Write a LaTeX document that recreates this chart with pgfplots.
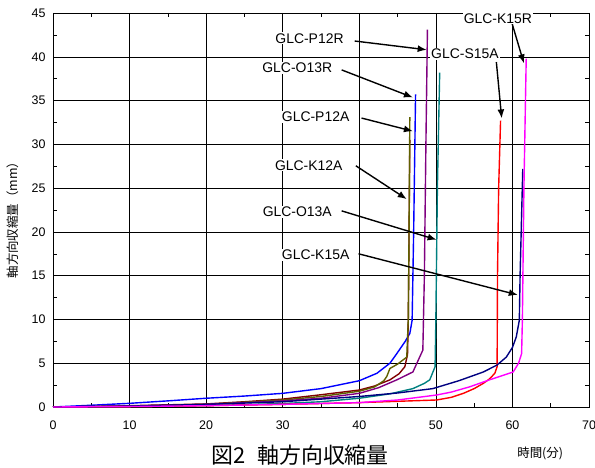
\documentclass[border=0pt]{standalone}
\usepackage{pgfplots}
\pgfplotsset{compat=1.18}
\usetikzlibrary{arrows.meta}
\usepackage{fontspec}
\setmainfont{Liberation Sans}
\newfontfamily\jp{Noto Sans CJK JP}
\definecolor{cblue}{RGB}{0,0,255}
\definecolor{cmaroon}{RGB}{128,0,0}
\definecolor{colive}{RGB}{96,96,0}
\definecolor{cpurple}{RGB}{128,0,128}
\definecolor{cteal}{RGB}{0,128,128}
\definecolor{cred}{RGB}{255,0,0}
\definecolor{cnavy}{RGB}{0,0,128}
\definecolor{cmag}{RGB}{255,0,255}
\begin{document}
\begin{tikzpicture}
\useasboundingbox (0,0) rectangle (595bp,468bp);
\begin{axis}[
  at={(53bp,61bp)}, anchor=south west,
  scale only axis, width=536bp, height=394bp,
  xmin=0, xmax=70, ymin=0, ymax=45,
  xtick={0,10,...,70}, ytick={0,5,...,45},
  minor x tick num=1, minor y tick num=1,
  grid=major,
  major grid style={black, line width=0.5pt},
  axis line style={black, line width=0.6pt},
  tick style={black, line width=0.5pt},
  major tick length=5bp, minor tick length=4bp,
  /pgf/number format/assume math mode=true,
  ticklabel style={font=\fontsize{12.5}{13}\selectfont},
  xticklabel style={yshift=-10bp},
  yticklabel style={xshift=-4bp},
  xlabel={\jp 時間(分)},
  ylabel={\jp 軸方向収縮量（mm）},
  xlabel style={font=\fontsize{12.5}{12.5}\selectfont, at={(axis description cs:0.909,-0.117)}, anchor=center},
  ylabel style={font=\fontsize{12.5}{12.5}\selectfont, at={(axis description cs:-0.075,0.482)}, anchor=center},
  clip=false,
  every axis plot/.append style={line width=1.4pt, mark=none},
]
% GLC-O13R (blue)
\addplot[cblue] coordinates {(0,0)(5,0.2)(10,0.42)(15,0.7)(20,1.0)(25,1.25)(30,1.56)(35,2.1)(40,3.0)(42.3,3.85)(44,5.0)(44.9,6.1)(46,7.5)(46.6,8.4)(46.9,9.9)(47.1,20)(47.35,35.7)};
% GLC-K12A (maroon)
\addplot[cmaroon] coordinates {(0,0)(5,0.05)(10,0.15)(20,0.35)(25,0.6)(30,0.9)(35,1.4)(40,1.94)(42,2.4)(44,3.1)(45.2,3.8)(45.95,4.6)(46.3,6.0)(46.4,10)(46.5,20)(46.6,30.5)};
% GLC-P12A (olive)
\addplot[colive] coordinates {(0,0)(10,0.1)(20,0.3)(30,0.8)(35,1.2)(40,1.8)(42,2.3)(43.2,3.0)(43.6,3.5)(44,4.4)(45,4.9)(46.2,5.7)(46.4,10)(46.5,20)(46.6,33.1)};
% GLC-P12R (purple)
\addplot[cpurple] coordinates {(0,0)(10,0.1)(20,0.3)(30,0.7)(35,1.0)(40,1.56)(42.5,2.2)(44.9,3.1)(47,4.0)(48.3,6.5)(48.5,15)(48.7,30)(48.9,43.1)};
% GLC-O13A (teal)
\addplot[cteal] coordinates {(0,0)(10,0.05)(20,0.15)(30,0.4)(35,0.6)(40,1.0)(44,1.5)(47,2.1)(48.5,2.7)(49.2,3.1)(49.9,4.6)(50.0,10)(50.2,25)(50.5,38.2)};
% GLC-S15A (red)
\addplot[cred] coordinates {(0,0)(10,0.05)(20,0.15)(30,0.3)(40,0.5)(45,0.65)(50.1,0.8)(52,1.1)(53.6,1.56)(55,2.1)(56.2,2.7)(57.0,3.2)(57.7,3.85)(58.0,4.6)(58.05,15)(58.2,25)(58.45,32.7)};
% GLC-K15A (navy)
\addplot[cnavy] coordinates {(0,0)(10,0.1)(20,0.3)(30,0.6)(40,1.2)(45,1.6)(49.6,2.1)(53,3.0)(56.2,4.0)(58,4.8)(59.2,5.7)(60.0,6.8)(60.5,8.0)(60.9,9.9)(61.0,15)(61.35,27.2)};
% GLC-K15R (magenta)
\addplot[cmag] coordinates {(0,0)(10,0.05)(20,0.15)(30,0.3)(40,0.5)(45,0.8)(50.1,1.37)(52,1.7)(54.4,2.3)(57,3.1)(60.1,4.0)(60.8,5.0)(61.2,6.1)(61.3,10)(61.5,25)(61.8,39.8)};
% annotations
\tikzset{lbl/.style={font=\fontsize{14}{14}\selectfont, fill=white, inner sep=1pt}, arr/.style={black, line width=1.4pt, -{Latex[length=9bp,width=7bp]}}}
\draw[arr] (axis cs:59.75,44.4) -- (axis cs:61.5,39.25);
\draw[arr] (axis cs:39.4,41.8) -- (axis cs:48.8,40.8);
\draw[arr] (axis cs:57.9,39.4) -- (axis cs:58.6,32.96);
\draw[arr] (axis cs:37.7,38.5) -- (axis cs:47.0,35.35);
\draw[arr] (axis cs:40.3,33.0) -- (axis cs:47.0,31.5);
\draw[arr] (axis cs:39.55,27.55) -- (axis cs:46.2,23.74);
\draw[arr] (axis cs:37.7,22.4) -- (axis cs:50.1,19.1);
\draw[arr] (axis cs:39.9,17.5) -- (axis cs:60.7,12.8);
\node[lbl] at (axis cs:58.1,44.4) {GLC-K15R};
\node[lbl] at (axis cs:33.5,42.1) {GLC-P12R};
\node[lbl] at (axis cs:53.8,40.3) {GLC-S15A};
\node[lbl] at (axis cs:31.9,38.7) {GLC-O13R};
\node[lbl] at (axis cs:34.3,33.1) {GLC-P12A};
\node[lbl] at (axis cs:33.4,27.6) {GLC-K12A};
\node[lbl] at (axis cs:31.9,22.3) {GLC-O13A};
\node[lbl] at (axis cs:34.3,17.35) {GLC-K15A};
\end{axis}
\node[font=\jp\fontsize{22}{22}\selectfont] at (300bp,13bp) {図2\hspace{0.55em}軸方向収縮量};
\end{tikzpicture}
\end{document}
